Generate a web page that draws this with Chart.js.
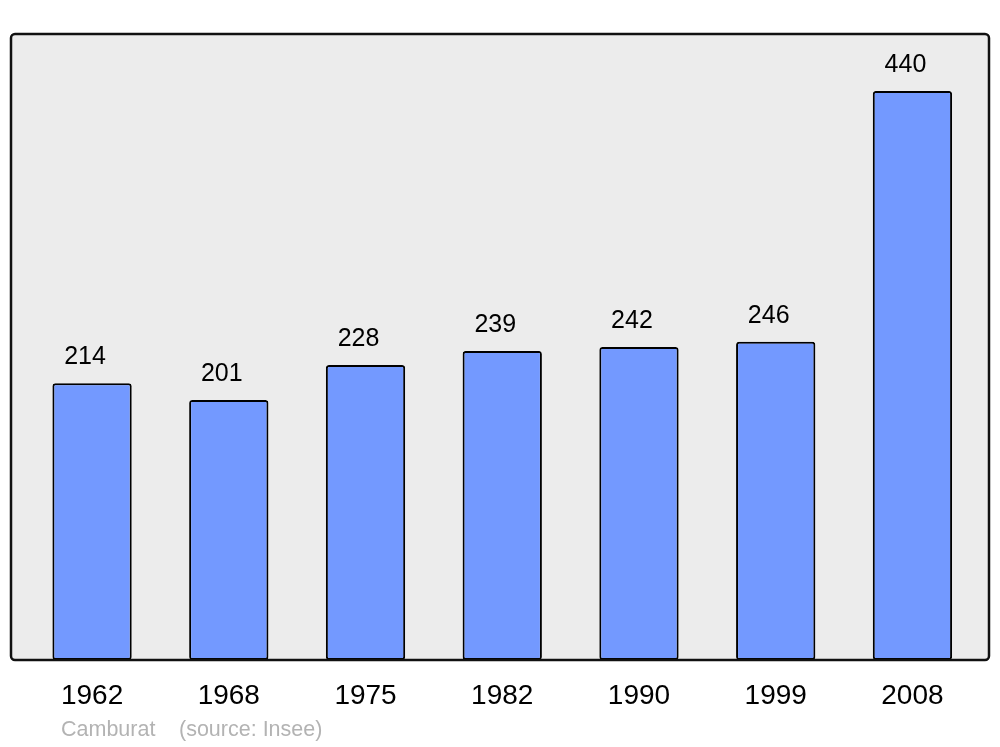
<!DOCTYPE html>
<html>
<head>
<meta charset="utf-8">
<script src="https://cdn.jsdelivr.net/npm/chart.js@4"></script>
<style>
html,body{margin:0;padding:0;background:#fff;}
#wrap{width:1000px;height:747px;}
</style>
</head>
<body>
<div id="wrap"><canvas id="c" width="1000" height="747"></canvas></div>
<script>
const years = ['1962','1968','1975','1982','1990','1999','2008'];
const population = [214, 201, 228, 239, 242, 246, 440];
const commune = 'Camburat';
const source = '(source: Insee)';

const FONT = '"Liberation Sans", Arial, sans-serif';

const frame = {
  id: 'frame',
  beforeDatasetsDraw(chart) {
    const ctx = chart.ctx;
    ctx.save();
    ctx.fillStyle = '#ececec';
    ctx.beginPath();
    ctx.roundRect(11, 34, 978, 626, 4);
    ctx.fill();
    ctx.restore();
  },
  afterDatasetsDraw(chart) {
    const ctx = chart.ctx;
    ctx.save();
    ctx.strokeStyle = '#111';
    ctx.lineWidth = 2.5;
    ctx.beginPath();
    ctx.roundRect(11, 34, 978, 626, 4);
    ctx.stroke();
    // value labels
    const meta = chart.getDatasetMeta(0);
    ctx.fillStyle = '#000';
    ctx.font = '25px ' + FONT;
    ctx.textAlign = 'center';
    ctx.textBaseline = 'middle';
    meta.data.forEach((bar, i) => {
      ctx.fillText(String(population[i]), bar.x - 7, bar.y - 26);
    });
    // footer
    ctx.fillStyle = '#b3b3b3';
    ctx.font = '21.5px ' + FONT;
    ctx.textAlign = 'left';
    ctx.fillText(commune, 61, 730);
    ctx.fillText(source, 179, 730);
    ctx.restore();
  }
};

new Chart(document.getElementById('c'), {
  type: 'bar',
  data: {
    labels: years,
    datasets: [{
      data: population,
      backgroundColor: '#7399ff',
      borderColor: '#000',
      borderWidth: 2,
      borderRadius: 3,
      borderSkipped: false,
      barPercentage: 0.58,
      categoryPercentage: 1.0
    }]
  },
  options: {
    responsive: false,
    animation: false,
    devicePixelRatio: 1,
    layout: { padding: { left: 23.7, right: 19.2, top: 34, bottom: 0 } },
    plugins: { legend: { display: false }, tooltip: { enabled: false } },
    scales: {
      x: {
        grid: { display: false, drawTicks: false },
        border: { display: false },
        ticks: { color: '#000', font: { family: FONT, size: 28 }, padding: 19, maxRotation: 0 },
        afterFit(axis) { axis.height = 87; }
      },
      y: {
        display: false,
        min: 0,
        max: 484
      }
    }
  },
  plugins: [frame]
});
</script>
</body>
</html>
